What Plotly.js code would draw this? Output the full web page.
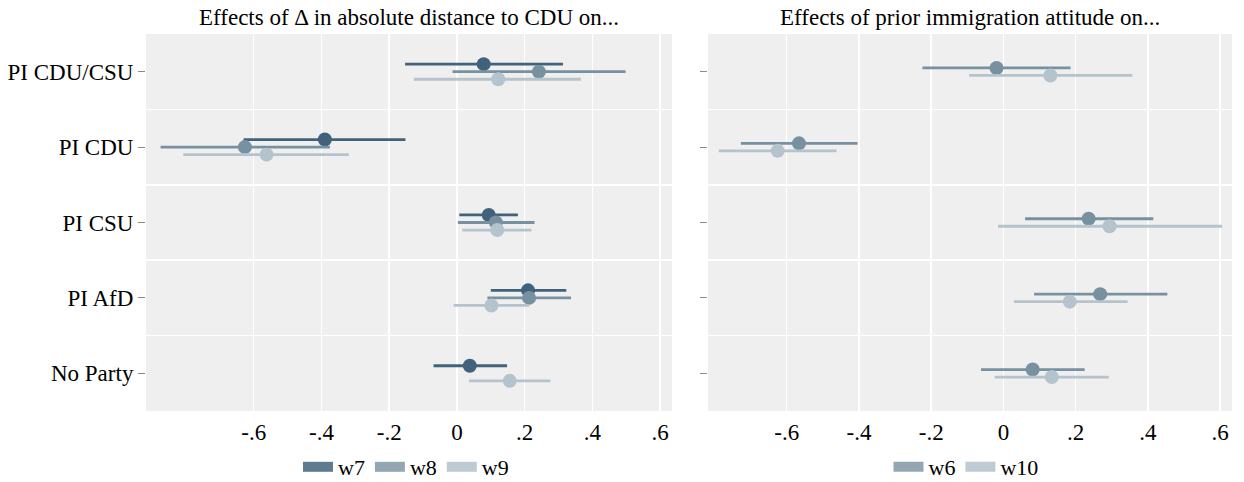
<!DOCTYPE html>
<html><head><meta charset="utf-8">
<script src="https://cdn.plot.ly/plotly-3.0.1.min.js"></script>
<style>html,body{margin:0;padding:0;background:#fff}</style>
</head><body><div id="chart" style="width:1244px;height:482px"></div>
<script>
const categories = ['PI CDU/CSU','PI CDU','PI CSU','PI AfD','No Party'];
const tickVals = [-0.6,-0.4,-0.2,0,0.2,0.4,0.6];
const tickLabels = ['-.6','-.4','-.2','0','.2','.4','.6'];

// Left panel: effects of change in absolute distance to CDU
const w7_est = [0.079,-0.390,0.094,0.210,0.038];
const w7_lo  = [-0.153,-0.630,0.007,0.100,-0.069];
const w7_hi  = [0.313,-0.152,0.180,0.323,0.148];
const w8_est = [0.242,-0.626,0.115,0.213,null];
const w8_lo  = [-0.013,-0.875,0.003,0.090,null];
const w8_hi  = [0.498,-0.375,0.229,0.337,null];
const w9_est = [0.122,-0.562,0.119,0.102,0.156];
const w9_lo  = [-0.127,-0.808,0.016,-0.010,0.036];
const w9_hi  = [0.366,-0.319,0.220,0.214,0.276];

// Right panel: effects of prior immigration attitude
const w6_est  = [-0.019,-0.566,0.236,0.268,0.081];
const w6_lo   = [-0.224,-0.727,0.060,0.085,-0.062];
const w6_hi   = [0.186,-0.404,0.415,0.454,0.225];
const w10_est = [0.130,-0.625,0.294,0.184,0.134];
const w10_lo  = [-0.095,-0.788,-0.015,0.029,-0.024];
const w10_hi  = [0.357,-0.462,0.606,0.344,0.292];

const C_DARK = '#42627b', C_MID = '#7891a1', C_LIGHT = '#b5c3cd';
const L_DARK = '#5f7b90', L_MID = '#93a7b3', L_LIGHT = '#bfcbd3';

function series(est, lo, hi, color, offset, xa, ya){
  return {
    type:'scatter', mode:'markers', xaxis:xa, yaxis:ya, showlegend:false, hoverinfo:'skip',
    x: est, y: categories.map((c,i)=>i+offset),
    marker:{color:color, size:14},
    error_x:{type:'data', symmetric:false, width:0, thickness:2.8, color:color,
      array: est.map((v,i)=> v==null?null:hi[i]-v),
      arrayminus: est.map((v,i)=> v==null?null:v-lo[i])}
  };
}
function legendItem(name, color, legend, xa, ya){
  return {type:'scatter', mode:'lines', x:[null], y:[null], xaxis:xa, yaxis:ya, name:name,
    legend:legend, showlegend:true, hoverinfo:'skip', line:{color:color, width:10}};
}

const data = [
  series(w7_est, w7_lo, w7_hi, C_DARK, -0.1, 'x', 'y'),
  series(w8_est, w8_lo, w8_hi, C_MID, 0, 'x', 'y'),
  series(w9_est, w9_lo, w9_hi, C_LIGHT, 0.1, 'x', 'y'),
  series(w6_est, w6_lo, w6_hi, C_MID, -0.05, 'x2', 'y2'),
  series(w10_est, w10_lo, w10_hi, C_LIGHT, 0.05, 'x2', 'y2'),
  legendItem('w7', L_DARK, 'legend', 'x', 'y'),
  legendItem('w8', L_MID, 'legend', 'x', 'y'),
  legendItem('w9', L_LIGHT, 'legend', 'x', 'y'),
  legendItem('w6', L_MID, 'legend2', 'x2', 'y2'),
  legendItem('w10', L_LIGHT, 'legend2', 'x2', 'y2')
];

const FONT = 'Liberation Serif';
const FS = 23;
const catIdx = categories.map((c,i)=>i);
const bounds = categories.slice(1).map((c,i)=>i+0.5);

function xaxisCfg(domain, range, anchor){
  return {domain:domain, range:range, anchor:anchor, tickvals:tickVals, ticktext:tickLabels,
    ticks:'', showgrid:true, gridcolor:'#ffffff', gridwidth:1.5, zeroline:false, showline:false,
    automargin:false, ticklabelstandoff:5, tickfont:{family:FONT, size:FS, color:'#000'}, fixedrange:true};
}
function yaxisCfg(anchor, showLabels){
  return {anchor:anchor, range:[categories.length-0.5,-0.5], tickvals:catIdx, ticktext:categories,
    showticklabels:showLabels, ticks:'outside', ticklen:7, tickwidth:1, tickcolor:'#8a8a8a',
    showgrid:false, zeroline:false, showline:false, ticklabelstandoff:0, automargin:false,
    tickfont:{family:FONT, size:FS, color:'#000'},
    minor:{tickvals:bounds, showgrid:true, gridcolor:'#ffffff', gridwidth:1.5, ticks:''}, fixedrange:true};
}

const W = 1232, H = 377;
const legendCfg = (cx) => ({orientation:'h', x:cx/W, xanchor:'center', y:(411-467)/H, yanchor:'middle',
    font:{family:FONT, size:22, color:'#000'}, bgcolor:'rgba(0,0,0,0)', itemwidth:30, tracegroupgap:0});
const layout = {
  width:1244, height:482, margin:{l:0, r:12, t:34, b:71, autoexpand:false},
  paper_bgcolor:'#ffffff', plot_bgcolor:'#efefef',
  font:{family:FONT, size:FS, color:'#000'},
  xaxis: xaxisCfg([146/W, 672/W], [-0.918, 0.635], 'y'),
  yaxis: yaxisCfg('x', true),
  xaxis2: xaxisCfg([708/W, 1], [-0.818, 0.633], 'y2'),
  yaxis2: yaxisCfg('x2', false),
  legend: legendCfg(406),
  legend2: legendCfg(966),
  annotations:[
    {text:'Effects of \u0394 in absolute distance to CDU on...', xref:'x domain', yref:'paper', x:0.5, y:1,
     xanchor:'center', yanchor:'bottom', yshift:2, showarrow:false, font:{family:FONT, size:FS, color:'#000'}},
    {text:'Effects of prior immigration attitude on...', xref:'x2 domain', yref:'paper', x:0.5, y:1,
     xanchor:'center', yanchor:'bottom', yshift:2, showarrow:false, font:{family:FONT, size:FS, color:'#000'}}
  ],
  showlegend:true
};

Plotly.newPlot('chart', data, layout, {displayModeBar:false, staticPlot:true});
</script></body></html>
